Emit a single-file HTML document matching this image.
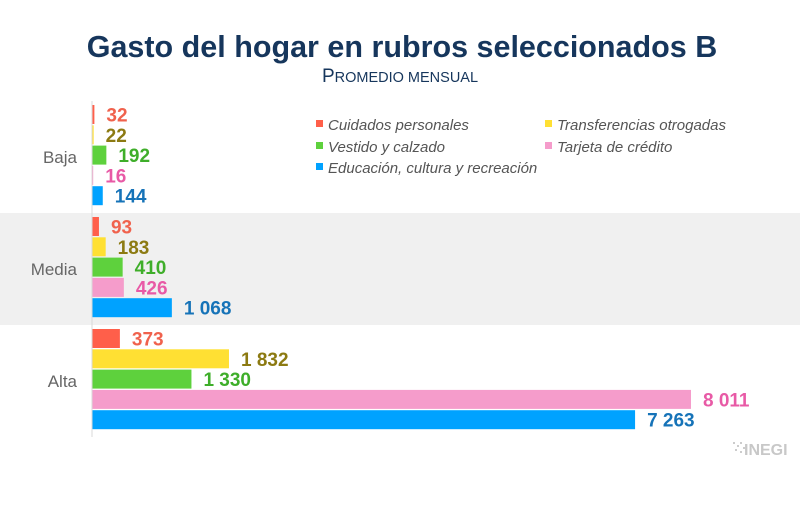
<!DOCTYPE html>
<html><head><meta charset="utf-8"><style>
body{margin:0;background:#fff;font-family:"Liberation Sans",sans-serif}
</style></head><body>
<svg width="800" height="507" viewBox="0 0 800 507" xmlns="http://www.w3.org/2000/svg">
<text x="402" y="57" text-anchor="middle" font-size="30.5" font-weight="bold" fill="#16365c">Gasto del hogar en rubros seleccionados B</text>
<text x="400" y="82" text-anchor="middle" font-size="19" fill="#16365c">P<tspan font-size="14.5">ROMEDIO MENSUAL</tspan></text>
<rect x="0" y="213" width="800" height="112" fill="#f0f0f0"/>
<g id="bars"></g>
<line x1="92" y1="101" x2="92" y2="437" stroke="#d9d9d9"/>
<g font-size="15" font-style="italic" fill="#555">
<g><rect x="316" y="120" width="7" height="7" fill="#ff5f4a"/><text x="328" y="130">Cuidados personales</text></g>
<g><rect x="545" y="120" width="7" height="7" fill="#ffe033"/><text x="557" y="130">Transferencias otrogadas</text></g>
<g><rect x="316" y="142" width="7" height="7" fill="#5ed13d"/><text x="328" y="152">Vestido y calzado</text></g>
<g><rect x="545" y="142" width="7" height="7" fill="#f59ccb"/><text x="557" y="152">Tarjeta de crédito</text></g>
<g><rect x="316" y="163" width="7" height="7" fill="#00a2ff"/><text x="328" y="173">Educación, cultura y recreación</text></g>
</g>
<g>
<g fill="#ccc"><rect x="733" y="442" width="2" height="2"/><rect x="737" y="445" width="2" height="2"/><rect x="735" y="449" width="2" height="2"/><rect x="740" y="442" width="2" height="2"/><rect x="740" y="451" width="2" height="2"/><rect x="743" y="447" width="2" height="2"/></g>
<text x="744" y="455" font-size="16" font-weight="bold" fill="#c8c8c8">INEGI</text>
</g>
</svg>
<script>
const categories = ["Baja","Media","Alta"];
const seriesNames = ["Cuidados personales","Transferencias otrogadas","Vestido y calzado","Tarjeta de crédito","Educación, cultura y recreación"];
const cuidados = [32,93,373];
const transferencias = [22,183,1832];
const vestido = [192,410,1330];
const tarjeta = [16,426,8011];
const educacion = [144,1068,7263];
const series = [cuidados,transferencias,vestido,tarjeta,educacion];
const colors = ["#ff5f4a","#ffe033","#5ed13d","#f59ccb","#00a2ff"];
const labelColors = ["#f0624d","#8c7a12","#3fae2a","#e85aa6","#1673b8"];
const NS="http://www.w3.org/2000/svg";
const x0=92, xScale=(691-92)/8011;
const bandTop=101, bandH=112, barStep=20.3, barH=19;
function xPos(v){return x0+v*xScale;}
function fmt(v){return String(v).replace(/\B(?=(\d{3})+(?!\d))/g," ");}
const g=document.getElementById('bars');
categories.forEach((c,ci)=>{
  const t=document.createElementNS(NS,'text');
  
  
  t.setAttribute('x',77);t.setAttribute('y',bandTop+ci*bandH+bandH/2+6);
  t.setAttribute('text-anchor','end');t.setAttribute('font-size','17');t.setAttribute('fill','#666');
  t.textContent=c;g.appendChild(t);
  series.forEach((s,si)=>{
    const y=bandTop+ci*bandH+4+si*barStep;
    const r=document.createElementNS(NS,'rect');
    
    
    r.setAttribute('x',x0);r.setAttribute('y',y);
    r.setAttribute('width',Math.max(1,xPos(s[ci])-x0));r.setAttribute('height',barH);
    r.setAttribute('fill',colors[si]);g.appendChild(r);
    const l=document.createElementNS(NS,'text');
    
    
    l.setAttribute('x',xPos(s[ci])+12);l.setAttribute('y',y+barH/2+7);
    l.setAttribute('font-size','19');l.setAttribute('font-weight','bold');l.setAttribute('fill',labelColors[si]);
    l.textContent=fmt(s[ci]);g.appendChild(l);
  });
});
</script>
</body></html>
